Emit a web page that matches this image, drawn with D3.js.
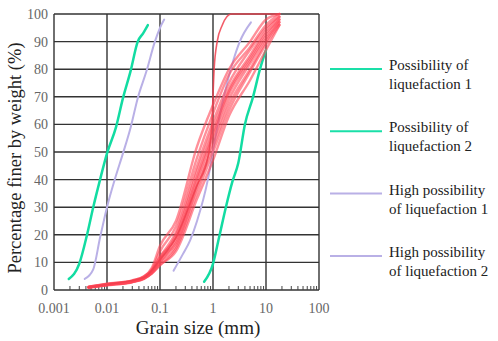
<!DOCTYPE html>
<html lang="en">

<head>
  <meta charset="UTF-8">
  <title>Grain size distribution</title>
  <style>
    html,
    body {
      margin: 0;
      background: #fff;
    }

    svg text {
      font-family: "Liberation Serif", "DejaVu Serif", serif;
    }
  </style>
</head>

<body>
  <div id="main"></div>

  <script src="https://cdn.jsdelivr.net/npm/d3@7"></script>

  <script>
    // 数据
    const xTicks = [0.001, 0.01, 0.1, 1, 10, 100]
    const xTickLabels = ['0.001', '0.01', '0.1', '1', '10', '100']
    const yTicks = [0, 10, 20, 30, 40, 50, 60, 70, 80, 90, 100]

    const green1Size = [0.0019, 0.003, 0.0042, 0.0055, 0.0074, 0.01, 0.0148, 0.02, 0.028, 0.038, 0.048, 0.059]
    const green1Pct = [4, 9.5, 20, 30, 40, 49.5, 59, 69.5, 79.5, 90, 93, 96]
    const lav1Size = [0.0038, 0.0055, 0.0074, 0.01, 0.014, 0.02, 0.028, 0.038, 0.056, 0.08, 0.1, 0.12]
    const lav1Pct = [4, 7.5, 19, 30, 40, 49.5, 59, 69.5, 79.5, 90, 95, 98]
    const green2Size = [0.68, 1.0, 1.3, 1.75, 2.3, 3.0, 4.0, 5.7, 7.7, 10]
    const green2Pct = [3, 9.5, 19, 30, 39, 46, 60, 70, 80, 87]
    const lav2Size = [0.18, 0.27, 0.37, 0.5, 0.8, 1.1, 1.6, 2.4, 3.2, 5.2]
    const lav2Pct = [7, 13, 18, 25, 40, 55, 70, 83, 90, 97]

    // 红色曲线共用粒径
    const redSize = [0.0045, 0.01, 0.03, 0.05, 0.07, 0.1, 0.2, 0.5, 1, 2, 5, 10, 18]
    const redPct = [
      [1.0, 2.0, 3.2, 4.8, 8, 16, 25, 52, 67, 80, 90, 98, 100],
      [1.2, 2.2, 3.4, 5.0, 7.5, 14, 23, 48, 64, 78, 88, 96, 100],
      [0.8, 1.8, 3.0, 4.4, 7, 12, 21, 45, 61, 75, 87, 95, 99],
      [1.0, 1.9, 3.1, 4.2, 6.5, 11, 20, 43, 59, 73, 85, 94, 99],
      [1.1, 2.1, 3.3, 4.6, 7, 12, 19, 41, 57, 72, 84, 93, 98],
      [0.9, 1.7, 2.8, 4.0, 6, 10, 18, 40, 56, 71, 83, 92, 98],
      [1.0, 2.0, 3.0, 4.3, 6.5, 11, 17, 38, 54, 69, 82, 91, 97],
      [1.2, 2.3, 3.5, 4.9, 7, 10, 16, 37, 52, 67, 80, 90, 97],
      [0.9, 1.8, 2.9, 4.1, 6, 9, 15, 35, 50, 65, 79, 89, 96],
      [1.0, 1.9, 3.0, 4.4, 6, 9, 14, 33, 47, 63, 76, 87, 96]
    ]
    const redOutSize = [0.0045, 0.01, 0.05, 0.1, 0.2, 0.5, 0.8, 0.95, 1.05, 1.2, 1.5, 2.2, 18]
    const redOutPct = [1, 2, 4.5, 11, 19, 38, 48, 60, 80, 90, 96, 100, 100]

    const legendLabels = [
      ['Possibility of', 'liquefaction 1'],
      ['Possibility of', 'liquefaction 2'],
      ['High possibility', 'of liquefaction 1'],
      ['High possibility', 'of liquefaction 2']
    ]
    const legendColors = ['#1adfa8', '#1adfa8', '#b9b0e6', '#b9b0e6']

    // 画布
    const W = 498, H = 341
    const svg = d3.select('#main').append('svg').attr('width', W).attr('height', H)
    const x = d3.scaleLog().domain([0.001, 100]).range([54, 319])
    const y = d3.scaleLinear().domain([0, 100]).range([290, 14])

    // 网格
    const grid = svg.append('g').attr('stroke', '#333').attr('stroke-width', 1.4)
    grid.selectAll('.gy').data(yTicks).join('line')
      .attr('x1', x(0.001)).attr('x2', x(100))
      .attr('y1', d => y(d)).attr('y2', d => y(d))
    grid.selectAll('.gx').data(xTicks).join('line')
      .attr('x1', d => x(d)).attr('x2', d => x(d))
      .attr('y1', y(0)).attr('y2', y(100))

    // 小刻度
    const minor = []
    xTicks.slice(0, -1).forEach(t => {
      for (let k = 2; k <= 9; k++) minor.push(t * k)
    })
    svg.append('g').attr('stroke', '#444').attr('stroke-width', 1)
      .selectAll('line').data(minor).join('line')
      .attr('x1', d => x(d)).attr('x2', d => x(d))
      .attr('y1', y(0)).attr('y2', y(0) - 4)

    // 刻度文字
    svg.append('g').selectAll('text').data(yTicks).join('text')
      .attr('x', 48).attr('y', d => y(d)).attr('dy', '0.35em')
      .attr('text-anchor', 'end').attr('fill', '#666').attr('font-size', 14)
      .text(d => d)
    svg.append('g').selectAll('text').data(xTicks).join('text')
      .attr('x', d => x(d)).attr('y', 313)
      .attr('text-anchor', 'middle').attr('fill', '#666').attr('font-size', 14)
      .text((d, i) => xTickLabels[i])

    svg.append('text').attr('x', 198).attr('y', 334).attr('text-anchor', 'middle')
      .attr('fill', '#222').attr('font-size', 19).text('Grain size (mm)')
    svg.append('text').attr('transform', 'translate(21,158) rotate(-90)')
      .attr('text-anchor', 'middle').attr('fill', '#222').attr('font-size', 18.5)
      .text('Percentage finer by weight (%)')

    // 曲线
    const line = d3.line().x(d => x(d[0])).y(d => y(d[1])).curve(d3.curveMonotoneX)
    const zip = (a, b) => a.map((v, i) => [v, b[i]])

    const curves = svg.append('g').attr('fill', 'none').attr('stroke-linecap', 'round')
    curves.append('path').attr('d', line(zip(lav1Size, lav1Pct)))
      .attr('stroke', '#b9b0e6').attr('stroke-width', 2)
    curves.append('path').attr('d', line(zip(lav2Size, lav2Pct)))
      .attr('stroke', '#b9b0e6').attr('stroke-width', 2)
    curves.append('path').attr('d', line(zip(green1Size, green1Pct)))
      .attr('stroke', '#12dca2').attr('stroke-width', 2.5)
    curves.append('path').attr('d', line(zip(green2Size, green2Pct)))
      .attr('stroke', '#12dca2').attr('stroke-width', 2.5)

    curves.selectAll('.red').data(redPct).join('path')
      .attr('d', d => line(zip(redSize, d)))
      .attr('stroke', '#ff4656').attr('stroke-opacity', 0.6).attr('stroke-width', 2.4)
    curves.append('path').attr('d', line(zip(redOutSize, redOutPct)))
      .attr('stroke', '#f0404e').attr('stroke-opacity', 0.85).attr('stroke-width', 1.6)

    // 图例
    const lg = svg.append('g').selectAll('g').data(legendLabels).join('g')
      .attr('transform', (d, i) => `translate(0,${69 + i * 62.3})`)
    lg.append('line').attr('x1', 330).attr('x2', 382)
      .attr('stroke', (d, i) => legendColors[i]).attr('stroke-width', 2)
    lg.append('text').attr('x', 389).attr('y', 0).attr('fill', '#222').attr('font-size', 15)
      .selectAll('tspan').data(d => d).join('tspan')
      .attr('x', 389).attr('y', (d, i) => i * 19 + 1)
      .text(d => d)
  </script>
</body>

</html>
